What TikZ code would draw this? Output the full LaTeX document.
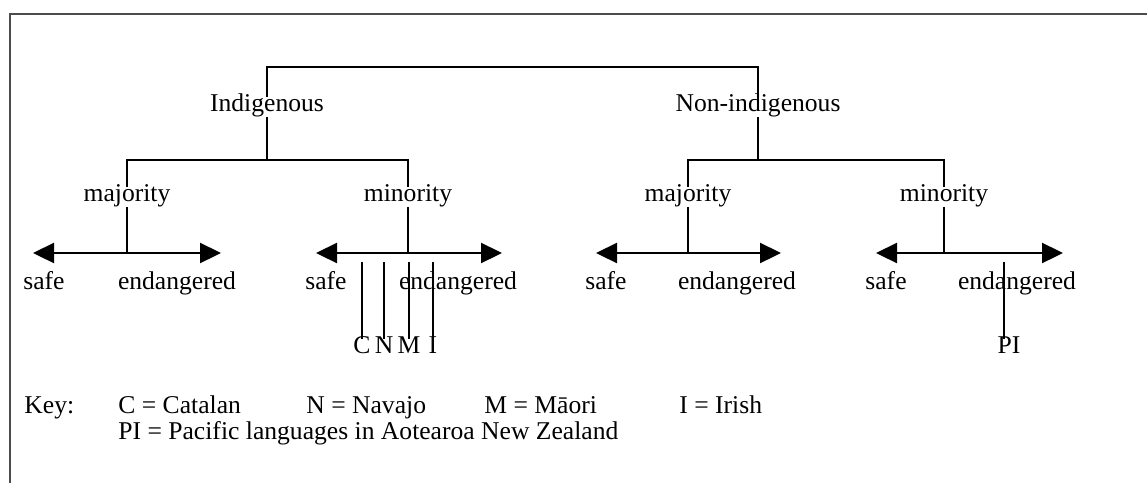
\documentclass[tikz,border=0pt]{standalone}
\usepackage{fontspec}
\setmainfont{Liberation Serif}
\usetikzlibrary{arrows.meta}

\begin{document}
\begin{tikzpicture}[
    x=0.5pt, y=-0.5pt,
    font=\fontsize{12.8}{15}\selectfont,
    lbl/.style={inner xsep=1pt, inner ysep=0.5pt, text height=0.66em, text depth=0.2em},
    keytext/.style={anchor=west, inner xsep=0pt, inner ysep=0pt, text height=0.6em, text depth=0.15em},
    treeline/.style={line width=1.15pt},
    langline/.style={line width=0.9pt},
    twoway/.style={treeline, {Triangle[length=10.5pt,width=10pt]}-{Triangle[length=10.5pt,width=10pt]}},
    boxline/.style={line width=1pt, black!70}
]

% Geometry
\def\arrowY{253}
\def\tickTop{262}

\useasboundingbox (0,0) rectangle (1147,483);

% Frame
\draw[boxline] (1147,14) -- (10,14) -- (10,483);

% Top level
\node[lbl] (ind) at (267,107) {Indigenous};
\node[lbl] (non) at (758,107) {Non-indigenous};
\coordinate (root) at (512,67);
\draw[treeline] (ind.north) |- (root) -| (non.north);

% Second level
\node[lbl] (majA) at (127,197) {majority};
\node[lbl] (minA) at (408,197) {minority};
\node[lbl] (majB) at (688,197) {majority};
\node[lbl] (minB) at (944,197) {minority};

\coordinate (splitA) at (267,160);
\coordinate (splitB) at (758,160);
\draw[treeline] (ind.south) -- (splitA);
\draw[treeline] (non.south) -- (splitB);
\draw[treeline] (majA.north) |- (splitA) -| (minA.north);
\draw[treeline] (majB.north) |- (splitB) -| (minB.north);

% Scales: safe <-> endangered
\coordinate (jA1) at (127,\arrowY);
\coordinate (lA1) at (33,\arrowY);
\coordinate (rA1) at (221,\arrowY);
\coordinate (jA2) at (408,\arrowY);
\coordinate (lA2) at (316,\arrowY);
\coordinate (rA2) at (502,\arrowY);
\coordinate (jB1) at (688,\arrowY);
\coordinate (lB1) at (596,\arrowY);
\coordinate (rB1) at (781,\arrowY);
\coordinate (jB2) at (944,\arrowY);
\coordinate (lB2) at (876,\arrowY);
\coordinate (rB2) at (1063,\arrowY);

\draw[treeline] (majA.south) -- (jA1);
\draw[treeline] (minA.south) -- (jA2);
\draw[treeline] (majB.south) -- (jB1);
\draw[treeline] (minB.south) -- (jB2);

\draw[twoway] (lA1) -- (rA1);
\draw[twoway] (lA2) -- (rA2);
\draw[twoway] (lB1) -- (rB1);
\draw[twoway] (lB2) -- (rB2);

\node[lbl] (safeA1) at (44,285) {safe};
\node[lbl] (endA1) at (177,285) {endangered};
\node[lbl] (safeA2) at (326,285) {safe};
\node[lbl] (endA2) at (458,285) {endangered};
\node[lbl] (safeB1) at (606,285) {safe};
\node[lbl] (endB1) at (737,285) {endangered};
\node[lbl] (safeB2) at (886,285) {safe};
\node[lbl] (endB2) at (1017,285) {endangered};

% Languages placed on the scales
\coordinate (tick) at (0,\tickTop);
\node[lbl] (C) at (362,349) {C};
\node[lbl] (N) at (384,349) {N};
\node[lbl] (M) at (409,349) {M};
\node[lbl] (I) at (433,349) {I};
\node[lbl] (PI) at (1009,349) {PI};

\draw[langline] (C.north) -- (C |- tick);
\draw[langline] (N.north) -- (N |- tick);
\draw[langline] (M.north) -- (M |- tick);
\draw[langline] (I.north) -- (I |- tick);
\draw[langline] ([xshift=-2.5pt]PI.north) -- ([xshift=-2.5pt]PI.north |- tick);

% Key
\node[keytext] (key) at (24,409) {Key:};
\node[keytext] (keyC) at (118,409) {C = Catalan};
\node[keytext] (keyN) at (306,409) {N = Navajo};
\node[keytext] (keyM) at (484,409) {M = Māori};
\node[keytext] (keyI) at (679,409) {I = Irish};
\node[keytext] (keyPI) at (118,435) {PI = Pacific languages in Aotearoa New Zealand};

\end{tikzpicture}
\end{document}
